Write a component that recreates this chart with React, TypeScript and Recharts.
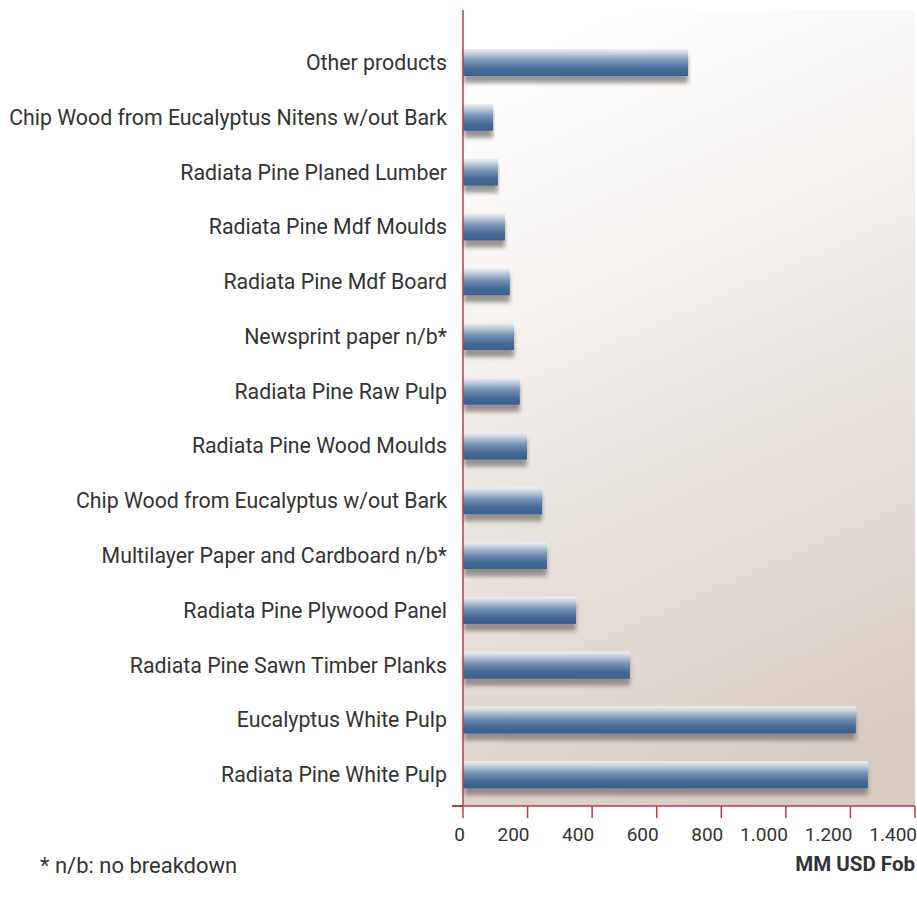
import React from 'react';
import { BarChart, Bar, XAxis, YAxis, CartesianGrid } from 'recharts';

const categories = [
  'Other products',
  'Chip Wood from Eucalyptus Nitens w/out Bark',
  'Radiata Pine Planed Lumber',
  'Radiata Pine Mdf Moulds',
  'Radiata Pine Mdf Board',
  'Newsprint paper n/b*',
  'Radiata Pine Raw Pulp',
  'Radiata Pine Wood Moulds',
  'Chip Wood from Eucalyptus w/out Bark',
  'Multilayer Paper and Cardboard n/b*',
  'Radiata Pine Plywood Panel',
  'Radiata Pine Sawn Timber Planks',
  'Eucalyptus White Pulp',
  'Radiata Pine White Pulp',
];
const values = [697, 93, 108, 130, 145, 158, 176, 198, 245, 260, 350, 517, 1217, 1254];
const xTicks = [0, 200, 400, 600, 800, 1000, 1200, 1400];

const data = categories.map((name, i) => ({ name, value: values[i] }));

const FONT = 'Roboto, "DejaVu Sans", sans-serif';
const RED = '#c43a3a';

const fmt = (v: number) => v.toString().replace(/\B(?=(\d{3})+(?!\d))/g, '.');

function BarShape(props: any) {
  const { x, y, width, height } = props;
  if (!width || width <= 0) return null;
  return (
    <g>
      <rect x={x + 1} y={y + 7} width={width - 1} height={height} fill="#7a7470" opacity={0.75} filter="url(#barShadow)" />
      <rect x={x} y={y} width={width} height={height} fill="url(#barFill)" />
    </g>
  );
}

// tick labels sit to the left of their tick, ending on it
function XTick(props: any) {
  const { x, y, payload } = props;
  return (
    <text x={x + 2} y={y} dy="0.71em" textAnchor="end" fill="#333" fontSize={19} fontFamily={FONT}>
      {fmt(payload.value)}
    </text>
  );
}

export default function App() {
  return (
    <div style={{ position: 'absolute', left: 0, top: 0, width: 917, height: 900, background: '#fff' }}>
      <BarChart
        width={917}
        height={900}
        data={data}
        layout="vertical"
        margin={{ top: 10, right: 2, left: 0, bottom: 64 }}
      >
        <defs>
          <linearGradient id="plotBg" x1="0.3" y1="0" x2="0.55" y2="1">
            <stop offset="0%" stopColor="#ffffff" />
            <stop offset="20%" stopColor="#f9f7f6" />
            <stop offset="100%" stopColor="#d8cdc4" />
          </linearGradient>
          <linearGradient id="barFill" x1="0" y1="0" x2="0" y2="1">
            <stop offset="0%" stopColor="#eef1f4" />
            <stop offset="15%" stopColor="#c9d4df" />
            <stop offset="45%" stopColor="#7393b5" />
            <stop offset="75%" stopColor="#466a97" />
            <stop offset="100%" stopColor="#3b5f8a" />
          </linearGradient>
          <filter id="barShadow" x="-5%" y="-50%" width="110%" height="200%">
            <feGaussianBlur stdDeviation="2" />
          </filter>
        </defs>
        <CartesianGrid horizontal={false} vertical={false} fill="url(#plotBg)" stroke="none" />
        <XAxis
          type="number"
          domain={[0, 1400]}
          ticks={xTicks}
          interval={0}
          axisLine={{ stroke: RED, strokeWidth: 1.5 }}
          tickLine={{ stroke: RED, strokeWidth: 1.5 }}
          tickSize={12}
          tickMargin={10}
          tick={<XTick />}
        />
        <YAxis
          type="category"
          dataKey="name"
          width={463}
          padding={{ top: 25, bottom: 4 }}
          axisLine={{ stroke: RED, strokeWidth: 1.5 }}
          tickLine={false}
          tickMargin={10}
          tick={{ fill: '#333', fontSize: 21.3, fontFamily: FONT }}
          interval={0}
        />
        <Bar dataKey="value" barSize={27} shape={<BarShape />} isAnimationActive={false} />
      </BarChart>
      <div style={{ position: 'absolute', left: 452, top: 805, width: 11, height: 1.5, background: RED }} />
      <div style={{ position: 'absolute', left: 40, top: 853, fontFamily: FONT, fontSize: 22, color: '#333' }}>
        * n/b: no breakdown
      </div>
      <div style={{ position: 'absolute', right: 2, top: 852, fontFamily: FONT, fontSize: 20.5, fontWeight: 700, color: '#333' }}>
        MM USD Fob
      </div>
    </div>
  );
}
